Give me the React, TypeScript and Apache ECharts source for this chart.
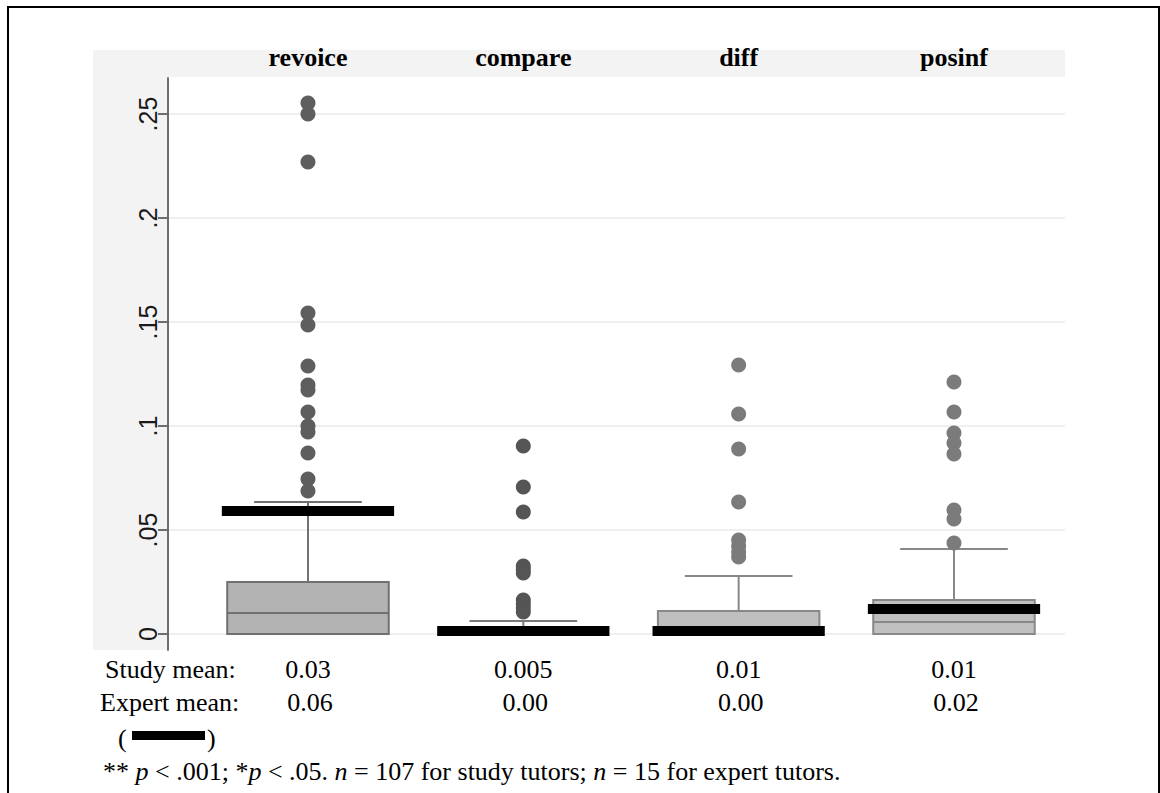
import React, { useEffect, useRef } from "react";
import * as echarts from "echarts";

// ---- data ----
const categories = ["revoice", "compare", "diff", "posinf"];
const whiskerLow = [0, 0, 0, 0];
const q1 = [0, 0, 0, 0];
const median = [0.0101, 0, 0, 0.0058];
const q3 = [0.025, 0.0008, 0.0111, 0.0163];
const whiskerHigh = [0.0635, 0.0063, 0.0279, 0.0409];
const expertMeanDrawn = [0.0591, 0.0014, 0.0014, 0.012];

const outliersRevoice = [0.2553, 0.25, 0.2269, 0.1543, 0.1486, 0.1288, 0.1197, 0.1173, 0.1067, 0.1, 0.0971, 0.087, 0.0745, 0.0688];
const outliersCompare = [0.0904, 0.0707, 0.0587, 0.0327, 0.031, 0.0293, 0.0163, 0.0145, 0.0125, 0.0106];
const outliersDiff = [0.1293, 0.1058, 0.0889, 0.0635, 0.0452, 0.0423, 0.0394, 0.037];
const outliersPosinf = [0.1212, 0.1067, 0.0966, 0.0918, 0.0865, 0.0596, 0.0553, 0.0437];

const yTickValues = [0, 0.05, 0.1, 0.15, 0.2, 0.25];
const yTickLabels = ["0", ".05", ".1", ".15", ".2", ".25"];

const studyMeanLabels = ["0.03", "0.005", "0.01", "0.01"];
const expertMeanLabels = ["0.06", "0.00", "0.00", "0.02"];
const footnote = "** {i|p} < .001; *{i|p} < .05. {i|n} = 107 for study tutors; {i|n} = 15 for expert tutors.";

// ---- styles / layout ----
const W = 1160;
const H = 793;
const GRID_L = 168;
const GRID_R = 1065;
const GRID_T = 78;
const GRID_B = 650;
const Y_MIN = -0.00769;
const Y_MAX = 0.26731;
const X_MIN = -0.65;
const X_MAX = 3.5155;
const BOX_W = 0.75;
const CAP_W = 0.5;
const BAR_W = 0.8;
const BAR_H = 10;
const boxFill = ["#b3b3b3", "#bcbcbc", "#bfbfbf", "#c0c0c0"];
const boxStroke = ["#707070", "#7a7a7a", "#888888", "#888888"];
const dotColor = ["#5e5e5e", "#555555", "#7b7b7b", "#7b7b7b"];
const SERIF = '"Liberation Serif", "Times New Roman", serif';
const SANS = '"Liberation Sans", Arial, sans-serif';
const PANEL = "#f3f3f3";

export default function App() {
  const ref = useRef<HTMLDivElement>(null);

  useEffect(() => {
    if (!ref.current) return;
    const chart = echarts.init(ref.current, undefined, { renderer: "svg" });

    const boxData = categories.map((_, i) => [i, whiskerLow[i], q1[i], median[i], q3[i], whiskerHigh[i]]);
    const barData = categories.map((_, i) => [i, expertMeanDrawn[i]]);
    const outlierSets = [outliersRevoice, outliersCompare, outliersDiff, outliersPosinf];

    const scatterSeries = outlierSets.map((set, i) => ({
      type: "scatter",
      name: categories[i],
      z: 3,
      symbol: "circle",
      symbolSize: 15,
      itemStyle: { color: dotColor[i], opacity: 1 },
      data: set.map((v) => [i, v]),
      silent: true,
    }));

    chart.setOption({
      animation: false,
      grid: { left: GRID_L, right: W - GRID_R, top: GRID_T, bottom: H - GRID_B, containLabel: false },
      xAxis: {
        type: "value",
        min: X_MIN,
        max: X_MAX,
        show: false,
        splitLine: { show: false },
      },
      yAxis: {
        type: "value",
        min: Y_MIN,
        max: Y_MAX,
        axisLine: { show: true, onZero: false, lineStyle: { color: "#6e6e6e", width: 2 } },
        axisTick: { show: true, length: 10, customValues: yTickValues, lineStyle: { color: "#6e6e6e", width: 2 } },
        axisLabel: {
          customValues: yTickValues,
          rotate: 90,
          margin: 8,
          fontFamily: SANS,
          fontSize: 25,
          color: "#1a1a1a",
          formatter: (v: number) => {
            const k = yTickValues.findIndex((t) => Math.abs(t - v) < 1e-9);
            return k >= 0 ? yTickLabels[k] : "";
          },
        },
        splitLine: { show: true, lineStyle: { color: "#efefef", width: 2 } },
      },
      series: [
        {
          type: "custom",
          z: 2,
          clip: false,
          silent: true,
          data: boxData,
          encode: { x: 0, y: [1, 2, 3, 4, 5] },
          renderItem: (params: any, api: any) => {
            const i = api.value(0);
            const x = api.coord([i, 0])[0];
            const yLo = api.coord([i, api.value(1)])[1];
            const yA = api.coord([i, api.value(2)])[1];
            const yM = api.coord([i, api.value(3)])[1];
            const yB = api.coord([i, api.value(4)])[1];
            const yHi = api.coord([i, api.value(5)])[1];
            const bw = api.size([BOX_W, 0])[0];
            const cw = api.size([CAP_W, 0])[0];
            const stroke = boxStroke[i];
            const ls = { stroke, lineWidth: 2 };
            return {
              type: "group",
              children: [
                { type: "line", shape: { x1: x, y1: yHi, x2: x, y2: yB }, style: ls },
                { type: "line", shape: { x1: x - cw / 2, y1: yHi, x2: x + cw / 2, y2: yHi }, style: ls },
                { type: "line", shape: { x1: x, y1: yLo, x2: x, y2: yA }, style: ls },
                {
                  type: "rect",
                  shape: { x: x - bw / 2, y: yB, width: bw, height: Math.max(yA - yB, 0.5) },
                  style: { fill: boxFill[i], stroke, lineWidth: 2 },
                },
                { type: "line", shape: { x1: x - bw / 2, y1: yM, x2: x + bw / 2, y2: yM }, style: ls },
              ],
            };
          },
        },
        ...scatterSeries,
        {
          type: "custom",
          z: 4,
          clip: false,
          silent: true,
          data: barData,
          encode: { x: 0, y: 1 },
          renderItem: (params: any, api: any) => {
            const c = api.coord([api.value(0), api.value(1)]);
            const w = api.size([BAR_W, 0])[0];
            return {
              type: "rect",
              shape: { x: c[0] - w / 2, y: c[1] - BAR_H / 2, width: w, height: BAR_H },
              style: { fill: "#000" },
            };
          },
        },
      ],
    });

    const cx = categories.map((_, i) => chart.convertToPixel({ xAxisIndex: 0 }, i) as number);
    const txt = (text: string, x: number, y: number, align: string, extra: any = {}) => ({
      type: "text",
      x,
      y,
      silent: true,
      style: {
        text,
        x: 0,
        y: 0,
        fill: "#000",
        fontFamily: SERIF,
        fontSize: 26,
        align,
        verticalAlign: "middle",
        ...extra,
      },
    });

    const graphics: any[] = [
      {
        type: "rect",
        z: -10,
        silent: true,
        shape: { x: 93, y: 50, width: GRID_R - 93, height: GRID_T - 1 - 50 },
        style: { fill: PANEL },
      },
      {
        type: "rect",
        z: -10,
        silent: true,
        shape: { x: 93, y: 50, width: GRID_L - 93, height: GRID_B - 50 },
        style: { fill: PANEL },
      },
      {
        type: "rect",
        z: 10,
        silent: true,
        shape: { x: 8, y: 7, width: 1151, height: 900 },
        style: { fill: "none", stroke: "#000", lineWidth: 2 },
      },
      ...categories.map((c, i) => txt(c, cx[i], 57, "center", { fontWeight: "bold" })),
      txt("Study mean:", 105, 669, "left"),
      txt("Expert mean:", 100, 702, "left"),
      ...studyMeanLabels.map((t, i) => txt(t, cx[i], 669, "center")),
      ...expertMeanLabels.map((t, i) => txt(t, cx[i] + 2, 702, "center")),
      txt("(", 118, 738, "left"),
      {
        type: "rect",
        silent: true,
        shape: { x: 132, y: 731, width: 73, height: 9 },
        style: { fill: "#000" },
      },
      txt(")", 207, 738, "left"),
      {
        type: "text",
        x: 103,
        y: 771,
        silent: true,
        style: {
          text: footnote,
          fill: "#000",
          fontFamily: SERIF,
          fontSize: 26,
          align: "left",
          verticalAlign: "middle",
          rich: {
            i: { fontFamily: SERIF, fontSize: 26, fontStyle: "italic", fill: "#000" },
          },
        },
      },
    ];

    chart.setOption({ graphic: graphics });

    return () => {
      chart.dispose();
    };
  }, []);

  return <div ref={ref} style={{ position: "absolute", left: 0, top: 0, width: W, height: H }} />;
}
